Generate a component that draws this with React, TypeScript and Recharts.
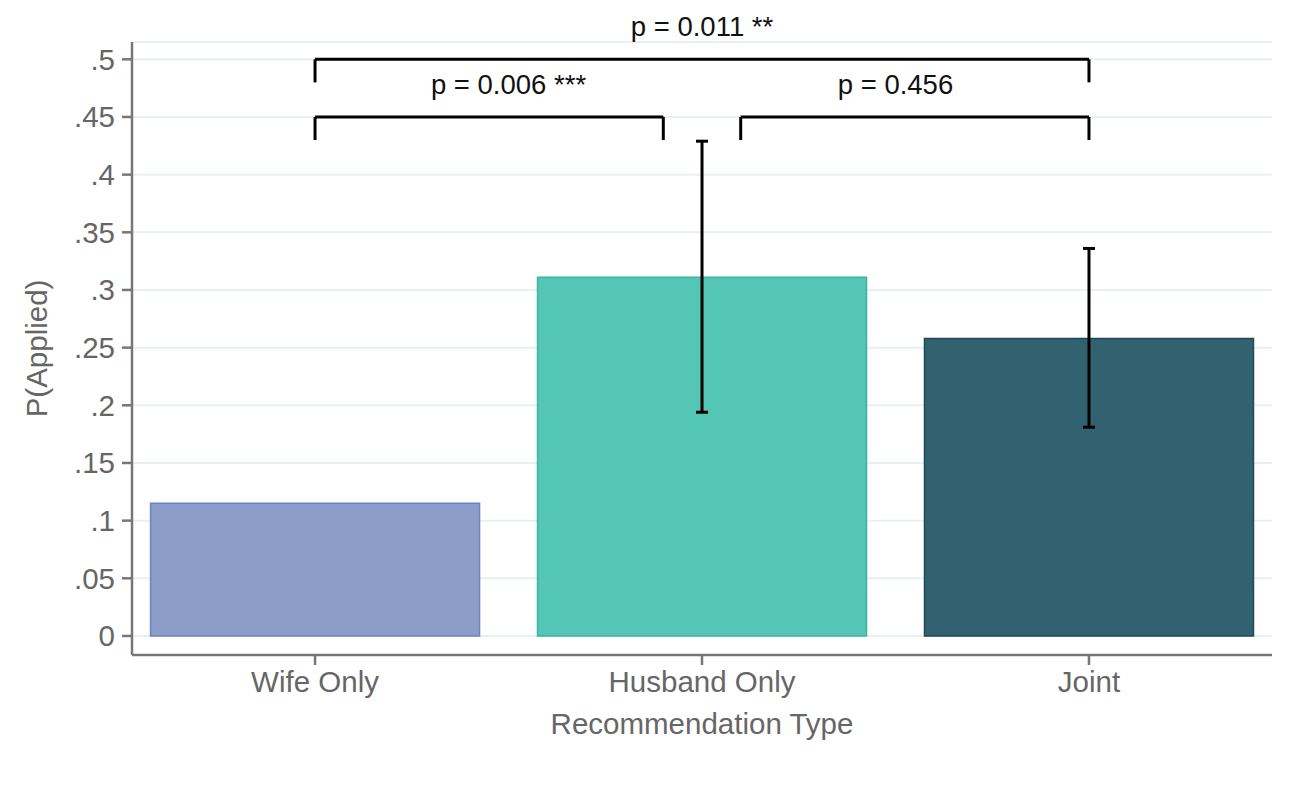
import { BarChart, Bar, XAxis, YAxis, CartesianGrid, Cell, ErrorBar, ReferenceLine, ReferenceDot } from 'recharts';

const categories = ['Wife Only', 'Husband Only', 'Joint'];
const positions = [1, 2, 3];
const applied = [0.115, 0.311, 0.258];
const ciLow: (number | null)[] = [null, 0.194, 0.181];
const ciHigh: (number | null)[] = [null, 0.429, 0.336];

const yTicks = [0, 0.05, 0.1, 0.15, 0.2, 0.25, 0.3, 0.35, 0.4, 0.45, 0.5];
const yTickLabels = ['0', '.05', '.1', '.15', '.2', '.25', '.3', '.35', '.4', '.45', '.5'];

// significance brackets (x in category positions, y in P(Applied))
const bracketFrom = [1, 1, 2.1];
const bracketTo = [3, 1.9, 3];
const bracketLevel = [0.5, 0.45, 0.45];
const bracketDrop = 0.02;
const pLabelX = [2, 1.5, 2.5];
const pLabels = ['p = 0.011 **', 'p = 0.006 ***', 'p = 0.456'];

const barFills = ['#8c9dc9', '#53c6b5', '#326170'];
const barStrokes = ['#6f83bd', '#3db4a2', '#1d4a59'];

const data = positions.map((pos, i) => ({
  pos,
  name: categories[i],
  value: applied[i],
  err: ciLow[i] == null || ciHigh[i] == null ? null : [applied[i] - (ciLow[i] as number), (ciHigh[i] as number) - applied[i]],
}));

const FONT = '"Liberation Sans", Arial, Helvetica, sans-serif';
const AXIS = '#777777';
const TEXT = '#666666';
const FS = 29.5;

export default function App() {
  return (
    <div style={{ width: 1289, height: 804, background: '#fff', fontFamily: FONT }}>
      <style>{'body{margin:0}'}</style>
      <BarChart width={1289} height={804} data={data} margin={{ top: 42, right: 17, left: 0, bottom: 0 }}>
        <CartesianGrid horizontal vertical={false} stroke="#e8f0f1" strokeWidth={2} />
        <XAxis
          type="number"
          dataKey="pos"
          domain={[0.527, 3.473]}
          ticks={positions}
          interval={0}
          tickFormatter={(v: number) => categories[positions.indexOf(v)] ?? ''}
          height={149}
          stroke={AXIS}
          strokeWidth={2.5}
          tickSize={10}
          tickMargin={6}
          tick={{ fill: TEXT, fontSize: FS, fontFamily: FONT }}
          label={{ value: 'Recommendation Type', position: 'insideBottom', offset: 70, fill: TEXT, fontSize: FS, fontFamily: FONT }}
        />
        <YAxis
          type="number"
          domain={[-0.0165, 0.515]}
          ticks={yTicks}
          interval={0}
          tickFormatter={(v: number) => yTickLabels[yTicks.indexOf(v)] ?? String(v)}
          width={132}
          stroke={AXIS}
          strokeWidth={2.5}
          tickSize={10}
          tickMargin={7}
          tick={{ fill: TEXT, fontSize: FS, fontFamily: FONT }}
          label={{ value: 'P(Applied)', angle: -90, position: 'insideLeft', offset: 37, fill: TEXT, fontSize: FS, fontFamily: FONT, style: { textAnchor: 'middle' } }}
        />
        <Bar dataKey="value" barSize={329} isAnimationActive={false}>
          {data.map((d, i) => (
            <Cell key={d.name} fill={barFills[i]} stroke={barStrokes[i]} strokeWidth={1.5} />
          ))}
          <ErrorBar dataKey="err" direction="y" width={6} stroke="#000" strokeWidth={3} isAnimationActive={false} />
        </Bar>
        {bracketLevel.map((y, i) => (
          <ReferenceLine key={`h-${i}`} segment={[{ x: bracketFrom[i], y }, { x: bracketTo[i], y }]} stroke="#000" strokeWidth={3} />
        ))}
        {bracketLevel.map((y, i) => (
          <ReferenceLine key={`l-${i}`} segment={[{ x: bracketFrom[i], y }, { x: bracketFrom[i], y: y - bracketDrop }]} stroke="#000" strokeWidth={3} />
        ))}
        {bracketLevel.map((y, i) => (
          <ReferenceLine key={`r-${i}`} segment={[{ x: bracketTo[i], y }, { x: bracketTo[i], y: y - bracketDrop }]} stroke="#000" strokeWidth={3} />
        ))}
        {bracketLevel.map((y, i) => (
          <ReferenceDot
            key={`p-${i}`}
            x={pLabelX[i]}
            y={y}
            r={0}
            fill="none"
            stroke="none"
            label={{ value: pLabels[i], position: 'top', offset: 23, fill: '#111', fontSize: 27.5, fontFamily: FONT }}
          />
        ))}
      </BarChart>
    </div>
  );
}
